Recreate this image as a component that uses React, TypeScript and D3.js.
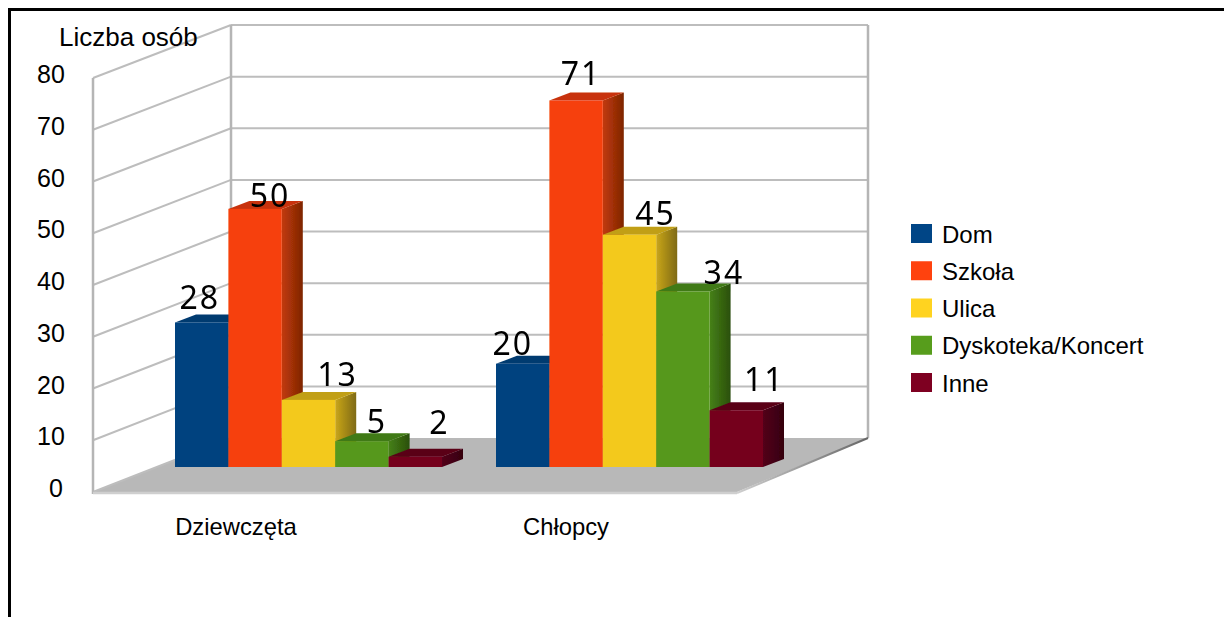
import * as d3 from 'd3';

const groups = ['Dziewczęta', 'Chłopcy'];
const seriesNames = ['Dom', 'Szkoła', 'Ulica', 'Dyskoteka/Koncert', 'Inne'];
const girls = [28, 50, 13, 5, 2];
const boys = [20, 71, 45, 34, 11];
const yTicks = [0, 10, 20, 30, 40, 50, 60, 70, 80];

const legendColors = ['#004586', '#ff420e', '#ffd320', '#579d1c', '#7e0021'];
const frontColors = ['#00427f', '#f6400b', '#f3c91d', '#57981c', '#75001f'];
const topColors = ['#003a70', '#c8330a', '#c19f14', '#3f7a14', '#5a0018'];
const sideLight = ['#00386b', '#c23a0a', '#c9a61b', '#468116', '#53001a'];
const sideDark = ['#002548', '#7e2503', '#7f6a12', '#2a4f0c', '#35000f'];

// hand placed value labels, they don't follow the bars in the original
const labelDx = [[-2, 15, 29, 15, 24], [-10, 5, 26, 41, 28]];
const labelDy = [[-5, 6, -6, 0, -15], [-1, -7, -2, 1, -11]];

const GREY = '#b8b8b8';
const DX = 21;
const DY = 8;

const yFront = d3.scaleLinear().domain([0, 80]).range([492, 78]);
const yBack = d3.scaleLinear().domain([0, 80]).range([438, 25]);
const yBar = d3.scaleLinear().domain([0, 80]).range([467, 54]);
const x0 = d3.scaleBand<string>().domain(groups).range([148, 790]);
const x1 = d3.scaleBand<string>().domain(seriesNames).range([27, 294]);
const legendY = d3.scalePoint<string>().domain(seriesNames).range([233.5, 382.5]);

const LEFT = 93;
const BACK_L = 231;
const BACK_R = 868;
const FRONT_R = 737;

export default function App() {
  const wallLine = d3.line();
  const rows = [girls, boys];

  return (
    <svg
      width={1224}
      height={617}
      viewBox="0 0 1224 617"
      style={{ position: 'fixed', left: 0, top: 0, background: '#fff' }}
      fontFamily="'Liberation Sans', Arial, sans-serif"
    >
      <defs>
        {seriesNames.map((_, i) => (
          <linearGradient key={i} id={`side-${i}`} x1="0" y1="0" x2="1" y2="0">
            <stop offset="0%" stopColor={sideLight[i]} />
            <stop offset="100%" stopColor={sideDark[i]} />
          </linearGradient>
        ))}
        <linearGradient id="floor-edge" x1="0" y1="0" x2="1" y2="0">
          <stop offset="0%" stopColor="#cfcfcf" />
          <stop offset="100%" stopColor="#666" />
        </linearGradient>
        {/* the original is a scaled bitmap, everything is a little soft */}
        <filter id="soft" x="-2%" y="-2%" width="104%" height="104%">
          <feGaussianBlur stdDeviation="0.5" />
        </filter>
      </defs>

      {/* outer frame */}
      <path d="M9.5 617V9.5H1224" fill="none" stroke="#000" strokeWidth={3} />

      <g filter="url(#soft)">
        {/* floor */}
        <path
          d={`M${LEFT},${yFront(0)}L${BACK_L},${yBack(0)}L${BACK_R},${yBack(0)}L${FRONT_R},${yFront(0)}Z`}
          fill={GREY}
        />

        {/* walls */}
        {yTicks.map(t => (
          <g key={t} fill="none" stroke="#bdbdbd" strokeWidth={2}>
            <path d={wallLine([[LEFT, yFront(t)], [BACK_L, yBack(t)]]) as string} />
            {t > 0 && <path d={wallLine([[BACK_L, yBack(t)], [BACK_R, yBack(t)]]) as string} />}
          </g>
        ))}
        <g fill="none" stroke="#b5b5b5" strokeWidth={2.5}>
          <path d={wallLine([[LEFT, yFront(80)], [LEFT, yFront(0) + 2]]) as string} />
          <path d={wallLine([[BACK_L, yBack(80)], [BACK_L, yBack(0)]]) as string} />
          <path d={wallLine([[BACK_R, yBack(80)], [BACK_R, yBack(0)]]) as string} />
          <path d={wallLine([[LEFT, yFront(0) + 1], [FRONT_R, yFront(0) + 1]]) as string} stroke="#cfcfcf" />
        </g>
        <path
          d={wallLine([[FRONT_R, yFront(0) + 1], [BACK_R, yBack(0)]]) as string}
          fill="none"
          stroke="url(#floor-edge)"
          strokeWidth={2}
        />

        {/* bars */}
        {groups.map((g, gi) =>
          seriesNames.map((s, si) => {
            const v = rows[gi][si];
            const x = (x0(g) as number) + (x1(s) as number);
            const w = x1.bandwidth();
            const top = yBar(v);
            const base = yBar(0);
            return (
              <g key={`${g}-${s}`}>
                <path
                  d={`M${x + w},${top}L${x + w + DX},${top - DY}L${x + w + DX},${base - DY}L${x + w},${base}Z`}
                  fill={`url(#side-${si})`}
                />
                <path
                  d={`M${x},${top}L${x + DX},${top - DY}L${x + w + DX},${top - DY}L${x + w},${top}Z`}
                  fill={topColors[si]}
                />
                <rect x={x} y={top} width={w} height={base - top} fill={frontColors[si]} />
              </g>
            );
          })
        )}

        {/* value labels */}
        <g fontFamily="'Noto Sans', sans-serif" fontSize={32} textAnchor="middle" fill="#000" letterSpacing={2}>
          {groups.map((g, gi) =>
            seriesNames.map((s, si) => {
              const v = rows[gi][si];
              const x = (x0(g) as number) + (x1(s) as number) + x1.bandwidth() / 2;
              return (
                <text key={`${g}-${s}`} x={x + labelDx[gi][si]} y={yBar(v) - DY + labelDy[gi][si]}>
                  {v}
                </text>
              );
            })
          )}
        </g>
      </g>

      {/* y axis */}
      <g fontSize={25} textAnchor="middle" fill="#000">
        {yTicks.map(t => (
          <text key={t} x={t === 0 ? 56 : 51} y={yFront(t) + 5}>
            {t}
          </text>
        ))}
      </g>
      <text x={59} y={46} fontSize={26} fill="#000">
        Liczba osób
      </text>

      {/* categories */}
      <g fontSize={23.8} textAnchor="middle" fill="#000">
        {groups.map(g => (
          <text key={g} x={(x0(g) as number) + (g === groups[0] ? 88 : 97)} y={535}>
            {g}
          </text>
        ))}
      </g>

      {/* legend */}
      {seriesNames.map((s, i) => (
        <g key={s}>
          <rect x={911} y={(legendY(s) as number) - 9.5} width={21} height={19} fill={legendColors[i]} />
          <text x={942} y={(legendY(s) as number) + 9} fontSize={24} fill="#000">
            {s}
          </text>
        </g>
      ))}
    </svg>
  );
}
